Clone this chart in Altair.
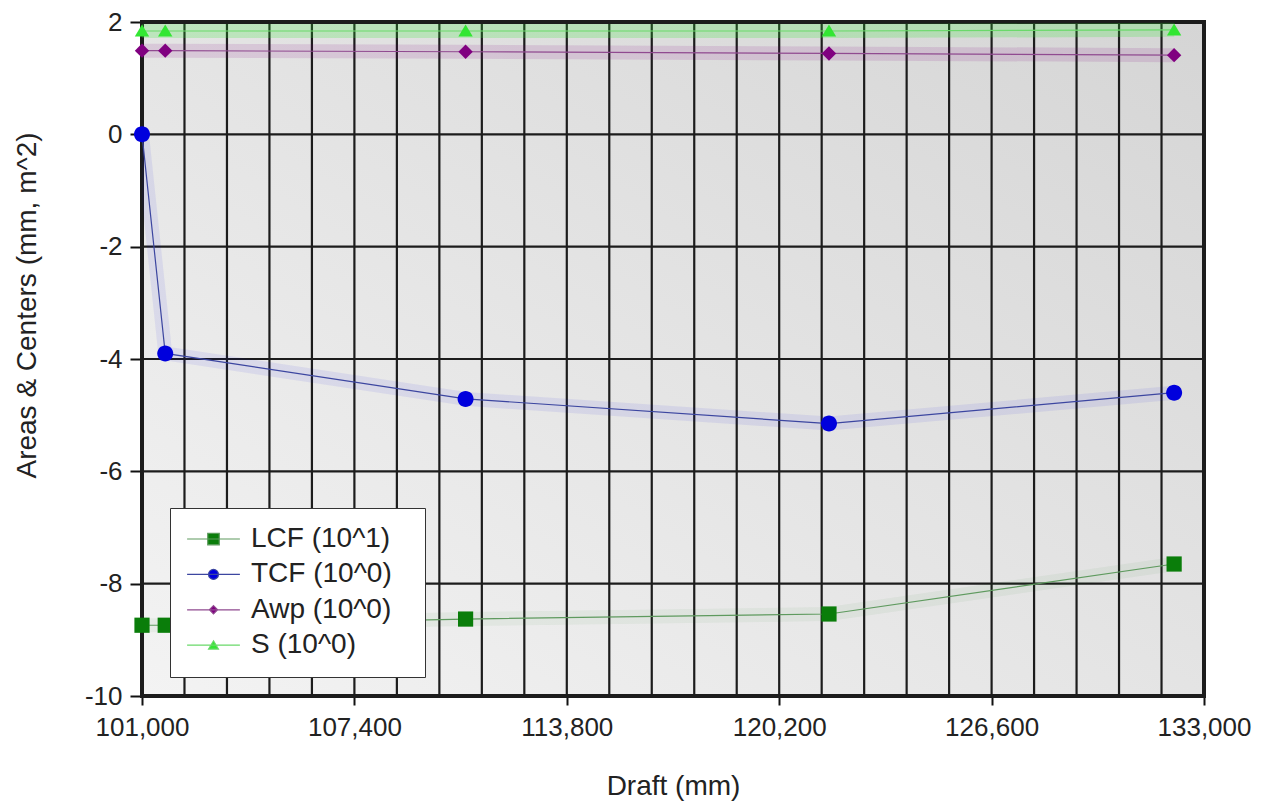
import altair as alt
import pandas as pd

# ---------------- data ----------------
draft = [101000, 101700, 110750, 121700, 132100]
lcf = [-8.74, -8.74, -8.63, -8.54, -7.65]
tcf = [0.0, -3.90, -4.71, -5.15, -4.60]
awp = [1.49, 1.49, 1.47, 1.44, 1.41]
s_area = [1.84, 1.84, 1.84, 1.84, 1.86]
series_names = ["LCF (10^1)", "TCF (10^0)", "Awp (10^0)", "S (10^0)"]

x_tick_labels = [101000, 107400, 113800, 120200, 126600, 133000]
x_grid_ticks = [101000, 102280, 103560, 104840, 106120, 107400, 108680, 109960,
                111240, 112520, 113800, 115080, 116360, 117640, 118920, 120200,
                121480, 122760, 124040, 125320, 126600, 127880, 129160, 130440,
                131720, 133000]
y_ticks = [-10, -8, -6, -4, -2, 0, 2]

# ---------------- styles ----------------
marker_colors = ["#0a7d0a", "#0000dd", "#800080", "#33e633"]
line_colors = ["#5e9a5e", "#3c46a0", "#904a90", "#6ad96a"]
glow_opacity = [0.05, 0.07, 0.12, 0.22]
marker_paths = [
    "M-0.95,-0.95H0.95V0.95H-0.95Z",
    "M1,0A1,1,0,1,1,-1,0A1,1,0,1,1,1,0Z",
    "M0,-0.9L0.9,0L0,0.9L-0.9,0Z",
    "M0,-0.8L0.9,0.7H-0.9Z",
]
legend_line = "M-4.8,0H4.8"
legend_paths = [
    legend_line + "M-1.05,-1.05H1.05V1.05H-1.05Z",
    legend_line + "M0.9,0A0.9,0.9,0,1,1,-0.9,0A0.9,0.9,0,1,1,0.9,0Z",
    legend_line + "M0,-0.75L0.75,0L0,0.75L-0.75,0Z",
    legend_line + "M0,-0.8L0.9,0.7H-0.9Z",
]

rows = []
for name, vals in zip(series_names, [lcf, tcf, awp, s_area]):
    for d, v in zip(draft, vals):
        rows.append({"draft": d, "value": v, "series": name})
df = pd.DataFrame(rows)

W, H = 1062, 674
FONT = "Liberation Sans"
TXT = "#222222"

x_scale = alt.Scale(domain=[101000, 133000], nice=False, zero=False)
y_scale = alt.Scale(domain=[-10, 2], nice=False, zero=False)

x_axis = alt.Axis(
    values=x_tick_labels, labelExpr="format(datum.value, ',')", title="Draft (mm)",
    grid=False, domain=False, tickSize=9, tickWidth=2, tickColor="#111111",
    labelFontSize=26, labelColor=TXT, labelBaseline="alphabetic", labelPadding=30,
    labelFlush=False, labelOverlap=False,
    titleFontSize=28, titleColor=TXT, titleFontWeight="normal",
    titleBaseline="alphabetic", titleY=98,
)
y_axis = alt.Axis(
    values=y_ticks, labelExpr="toString(datum.value)", title="Areas & Centers (mm, m^2)",
    grid=False, domain=False, tickSize=12, tickWidth=2, tickColor="#111111",
    labelFontSize=26, labelColor=TXT, labelPadding=8, labelFlush=False, labelOverlap=False,
    titleFontSize=28, titleColor=TXT, titleFontWeight="normal",
    titleAngle=270, titleAlign="center", titleBaseline="middle", titleX=-115, titleY=283,
)

X = alt.X("draft:Q", scale=x_scale, axis=x_axis)
Y = alt.Y("value:Q", scale=y_scale, axis=y_axis)

# background gradient of the plot area
bg = alt.Chart(pd.DataFrame({"a": [0]})).mark_rect(
    color=alt.LinearGradient(
        gradient="linear",
        stops=[alt.GradientStop(color="#f3f3f3", offset=0),
               alt.GradientStop(color="#d5d5d5", offset=1)],
        x1=0, y1=1, x2=1, y2=0,
    )
).encode(
    x=alt.X(datum=101000, type="quantitative", scale=x_scale, axis=x_axis),
    x2=alt.X2(datum=133000),
    y=alt.Y(datum=-10, type="quantitative", scale=y_scale, axis=y_axis),
    y2=alt.Y2(datum=2),
)

vgrid = alt.Chart(pd.DataFrame({"gx": x_grid_ticks})).mark_rule(
    color="#1c1c1c", strokeCap="square"
).encode(
    x=alt.X("gx:Q", scale=x_scale, axis=x_axis),
    strokeWidth=alt.condition("datum.gx == 101000 || datum.gx == 133000",
                              alt.value(4), alt.value(2.2)),
)
hgrid = alt.Chart(pd.DataFrame({"gy": y_ticks})).mark_rule(
    color="#1c1c1c", strokeCap="square"
).encode(
    y=alt.Y("gy:Q", scale=y_scale, axis=y_axis),
    strokeWidth=alt.condition("datum.gy == -10 || datum.gy == 2",
                              alt.value(4), alt.value(2.2)),
)

# per-series glow, line and markers (constant styles, no extra scales)
glow_layers, line_layers, point_layers = [], [], []
for name, mcol, lcol, op, path in zip(series_names, marker_colors, line_colors,
                                      glow_opacity, marker_paths):
    sub = alt.Chart(df).transform_filter(alt.datum.series == name)
    glow_layers.append(
        sub.mark_line(color=mcol, strokeWidth=14, opacity=op, clip=True).encode(x=X, y=Y)
    )
    line_layers.append(
        sub.mark_line(color=lcol, strokeWidth=1.2).encode(x=X, y=Y)
    )
    point_layers.append(
        sub.mark_point(filled=True, size=256, opacity=1, strokeWidth=0, shape=path, color=mcol)
        .encode(x=X, y=Y)
    )

# legend: built from the fill / stroke / shape scales, no marks drawn
leg = alt.Legend(
    title=None, orient="none", legendX=28, legendY=486, padding=17,
    fillColor="white", strokeColor="#333333",
    symbolSize=121, symbolOffset=12.5, symbolStrokeWidth=1.2, symbolOpacity=1,
    labelOffset=23.5, labelFontSize=28, labelFont=FONT, labelColor=TXT,
    rowPadding=7.4, labelLimit=400,
    labelExpr="datum.label + '\u00a0\u00a0\u200b'",
)
carrier = alt.Chart(df).transform_filter("false").mark_point(filled=True, opacity=1).encode(
    x=X, y=Y,
    fill=alt.Fill("series:N", scale=alt.Scale(domain=series_names, range=marker_colors),
                  legend=leg),
    stroke=alt.Stroke("series:N", scale=alt.Scale(domain=series_names, range=line_colors),
                      legend=leg),
    shape=alt.Shape("series:N", scale=alt.Scale(domain=series_names, range=legend_paths),
                    legend=leg),
)

chart = alt.layer(bg, vgrid, hgrid, *glow_layers, *line_layers, *point_layers, carrier).properties(
    width=W, height=H,
    padding={"left": 142, "top": 22, "right": 1268 - 142 - W, "bottom": 803 - 22 - H},
    autosize=alt.AutoSizeParams(type="none"),
    background="white",
).configure_view(stroke="transparent").configure(font=FONT)

chart.save("out.html", embed_options={"renderer": "svg", "actions": False})
